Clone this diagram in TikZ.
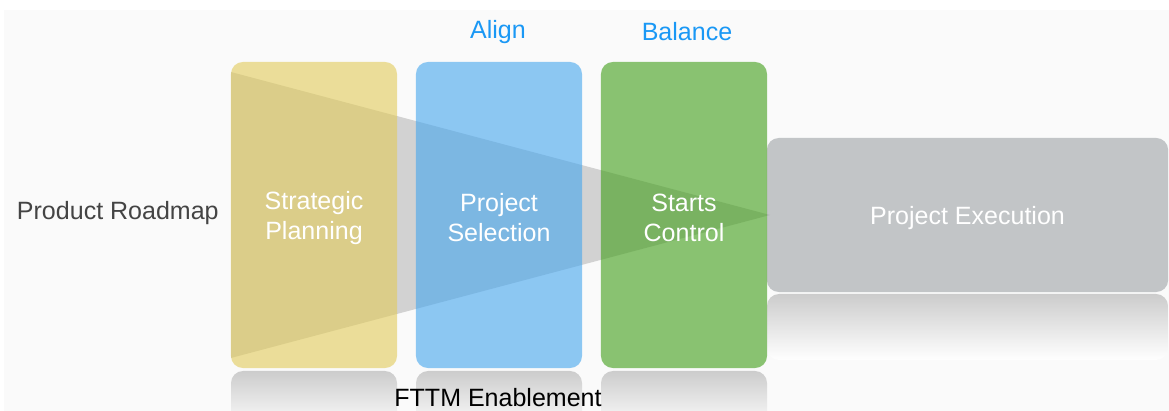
\documentclass[tikz,border=0pt]{standalone}
\usepackage{fontspec}
\setmainfont{Liberation Sans}
\usepackage{tikz}
\usetikzlibrary{positioning}
\definecolor{PlanYellow}{RGB}{226,203,89}
\definecolor{SelectBlue}{RGB}{67,165,238}
\definecolor{ControlGreen}{RGB}{62,157,22}
\definecolor{ExecGray}{RGB}{194,197,199}
\definecolor{NoteBlue}{RGB}{26,152,245}
\definecolor{LabelGray}{RGB}{68,68,68}

\begin{document}
\begin{tikzpicture}[
  x=0.025cm, y=-0.025cm,
  font=\fontsize{17.8}{21.4}\selectfont,
  stage/.style={
    rectangle,
    rounded corners=0.3cm,
    draw=none,
    fill opacity=0.6,
    minimum width=4.15cm,
    minimum height=7.65cm
  },
  caption/.style={align=center, text=white, yshift=-0.07cm},
  mirror/.style={rounded corners=0.3cm, top color=black!20, bottom color=white},
  note/.style={text=NoteBlue},
  label/.style={text=LabelGray}
]

  \useasboundingbox (0,0) rectangle (1169,411);
  \fill[black!2] (4,10) rectangle (1169,411);

  % reflections
  \shade[mirror] (767,294) rectangle (1168,360);
  \foreach \xl in {231,416,601}
    \shade[mirror] (\xl,371) rectangle (\xl+166,430);

  \node[stage, fill=ExecGray, fill opacity=1, minimum width=10.03cm, minimum height=3.85cm] (exec) at (967.5,215) {};

  % funnel
  \fill[black!45, opacity=0.36] (231,72) -- (770,215) -- (231,358) -- cycle;

  \node[stage, fill=PlanYellow] (plan) at (314,215) {};
  \node[stage, fill=SelectBlue] (select) at (499,215) {};
  \node[stage, fill=ControlGreen] (control) at (684,215) {};

  \node[caption] (planText) at (plan) {Strategic\\Planning};
  \node[caption] (selectText) at (select) {Project\\Selection};
  \node[caption] (controlText) at (control) {Starts\\Control};
  \node[caption] (execText) at (exec) {Project Execution};

  \node[label, anchor=west] (roadmap) at (12,213) {Product Roadmap};
  \node[note] (align) at (498,32) {Align};
  \node[note] (balance) at (687,32) {Balance};
  \node (fttm) at (498,398) {FTTM Enablement};

\end{tikzpicture}
\end{document}
